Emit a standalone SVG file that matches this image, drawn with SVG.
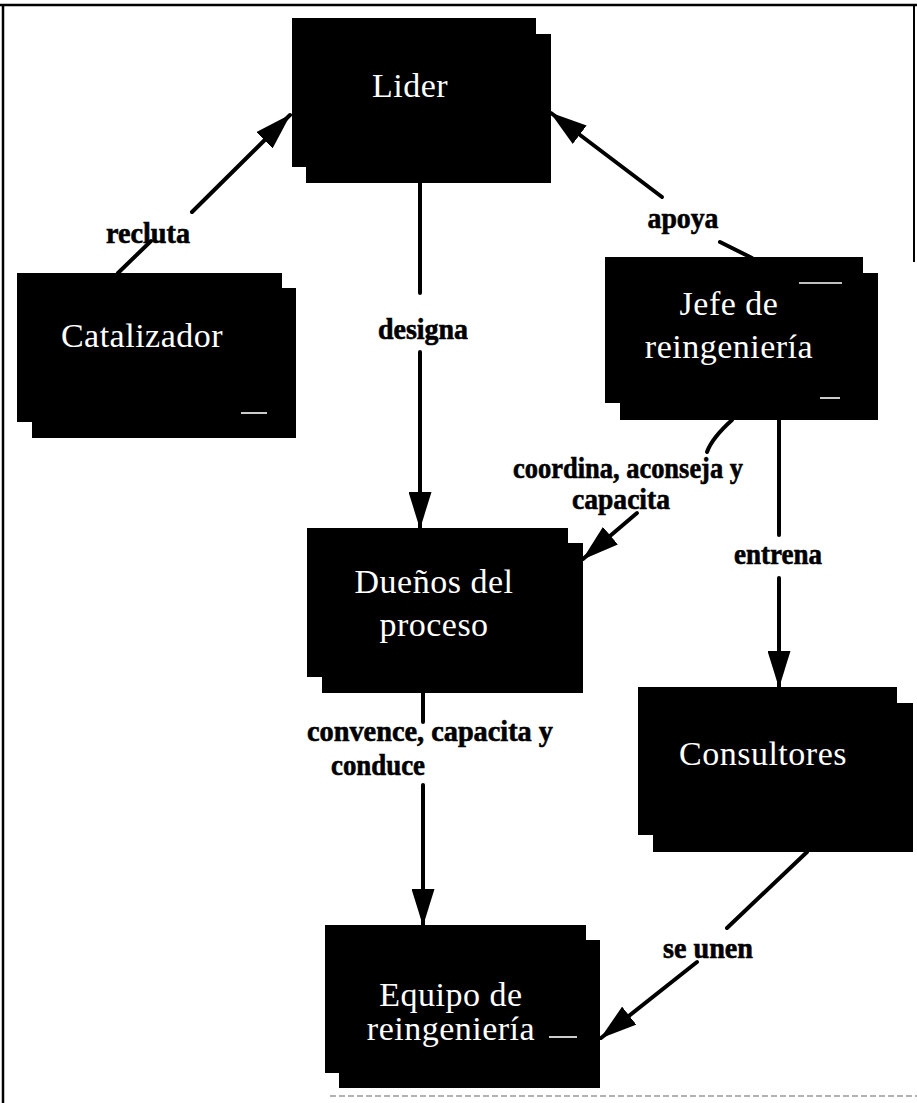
<svg xmlns="http://www.w3.org/2000/svg" width="917" height="1103" viewBox="0 0 917 1103">
  <style>
    .box { fill: #000; }
    .node-text { fill: #fff; font-family: "Liberation Serif", "Times New Roman", serif; font-size: 34px; text-anchor: middle; letter-spacing: 0.5px; }
    .label { fill: #000; stroke: #000; stroke-width: 0.6; font-family: "Liberation Serif", "Times New Roman", serif; font-size: 29px; font-weight: bold; text-anchor: middle; }
    .edge { stroke: #000; stroke-width: 4; fill: none; stroke-linecap: round; }
    .speck { stroke: #fff; stroke-width: 1.6; }
  </style>
  <defs>
    <marker id="arrow" viewBox="0 0 37 23" refX="36" refY="11.5" markerWidth="37" markerHeight="23" markerUnits="userSpaceOnUse" orient="auto">
      <path d="M0,0 L37,11.5 L0,23 Z" fill="#000"/>
    </marker>
  </defs>

  <rect width="917" height="1103" fill="#fff"/>

  <!-- page frame -->
  <g id="frame" stroke="#000" fill="none">
    <line x1="0" y1="5" x2="917" y2="5" stroke-width="2.5"/>
    <line x1="3" y1="4" x2="3" y2="1103" stroke-width="2.5"/>
    <line x1="914" y1="4" x2="914" y2="262" stroke-width="2"/>
    <line x1="330" y1="1096" x2="917" y2="1096" stroke="#999" stroke-width="1.5" stroke-dasharray="6 3"/>
  </g>

  <!-- connectors -->
  <g id="connectors">
    <!-- recluta -->
    <line class="edge" x1="118" y1="273" x2="151" y2="241"/>
    <line class="edge" x1="192" y1="212" x2="290" y2="115" marker-end="url(#arrow)"/>
    <!-- apoya -->
    <line class="edge" x1="752" y1="258" x2="720" y2="242"/>
    <line class="edge" x1="662" y1="197" x2="551" y2="113" marker-end="url(#arrow)"/>
    <!-- designa -->
    <line class="edge" x1="420" y1="183" x2="420" y2="293"/>
    <line class="edge" x1="420" y1="352" x2="420" y2="528" marker-end="url(#arrow)"/>
    <!-- coordina, aconseja y capacita -->
    <path class="edge" d="M732,420 Q712,438 707,452"/>
    <line class="edge" x1="637" y1="513" x2="583" y2="559" marker-end="url(#arrow)"/>
    <!-- entrena -->
    <line class="edge" x1="779" y1="420" x2="779" y2="535"/>
    <line class="edge" x1="779" y1="578" x2="779" y2="687" marker-end="url(#arrow)"/>
    <!-- convence, capacita y conduce -->
    <line class="edge" x1="423" y1="693" x2="423" y2="722"/>
    <line class="edge" x1="423" y1="785" x2="423" y2="925" marker-end="url(#arrow)"/>
    <!-- se unen -->
    <line class="edge" x1="807" y1="852" x2="727" y2="928"/>
    <line class="edge" x1="697" y1="962" x2="601" y2="1038" marker-end="url(#arrow)"/>
  </g>

  <!-- nodes -->
  <g id="node-lider">
    <rect class="box" x="306" y="34" width="245" height="149"/>
    <rect class="box" x="292" y="18" width="244" height="149"/>
    <text class="node-text" x="410" y="97">Lider</text>
  </g>

  <g id="node-catalizador">
    <rect class="box" x="32" y="288" width="264" height="150"/>
    <rect class="box" x="17" y="273" width="265" height="149"/>
    <text class="node-text" x="142" y="347">Catalizador</text>
    <line class="speck" x1="241" y1="413" x2="267" y2="413"/>
  </g>

  <g id="node-jefe">
    <rect class="box" x="620" y="273" width="258" height="147"/>
    <rect class="box" x="605" y="257" width="258" height="146"/>
    <text class="node-text" x="729" y="315">Jefe de</text>
    <text class="node-text" x="729" y="358">reingeniería</text>
    <line class="speck" x1="799" y1="283" x2="842" y2="283"/>
    <line class="speck" x1="820" y1="398" x2="840" y2="398"/>
  </g>

  <g id="node-duenos">
    <rect class="box" x="322" y="543" width="261" height="150"/>
    <rect class="box" x="307" y="528" width="261" height="149"/>
    <text class="node-text" x="434" y="593">Dueños del</text>
    <text class="node-text" x="434" y="636">proceso</text>
  </g>

  <g id="node-consultores">
    <rect class="box" x="653" y="703" width="260" height="149"/>
    <rect class="box" x="638" y="687" width="259" height="148"/>
    <text class="node-text" x="763" y="765">Consultores</text>
  </g>

  <g id="node-equipo">
    <rect class="box" x="339" y="940" width="261" height="148"/>
    <rect class="box" x="325" y="925" width="261" height="148"/>
    <text class="node-text" x="451" y="1006">Equipo de</text>
    <text class="node-text" x="451" y="1040">reingeniería</text>
    <line class="speck" x1="549" y1="1037" x2="577" y2="1037"/>
  </g>

  <!-- connector labels -->
  <g id="labels">
    <text class="label" x="148" y="243" textLength="84" lengthAdjust="spacingAndGlyphs">recluta</text>
    <text class="label" x="683" y="228" textLength="71" lengthAdjust="spacingAndGlyphs">apoya</text>
    <text class="label" x="423" y="339" textLength="90" lengthAdjust="spacingAndGlyphs">designa</text>
    <text class="label" x="628" y="478" textLength="230" lengthAdjust="spacingAndGlyphs">coordina, aconseja y</text>
    <text class="label" x="621" y="509" textLength="98" lengthAdjust="spacingAndGlyphs">capacita</text>
    <text class="label" x="778" y="564" textLength="88" lengthAdjust="spacingAndGlyphs">entrena</text>
    <text class="label" x="430" y="741" textLength="246" lengthAdjust="spacingAndGlyphs">convence, capacita y</text>
    <text class="label" x="378" y="775" textLength="94" lengthAdjust="spacingAndGlyphs">conduce</text>
    <text class="label" x="708" y="958" textLength="90" lengthAdjust="spacingAndGlyphs">se unen</text>
  </g>
</svg>
